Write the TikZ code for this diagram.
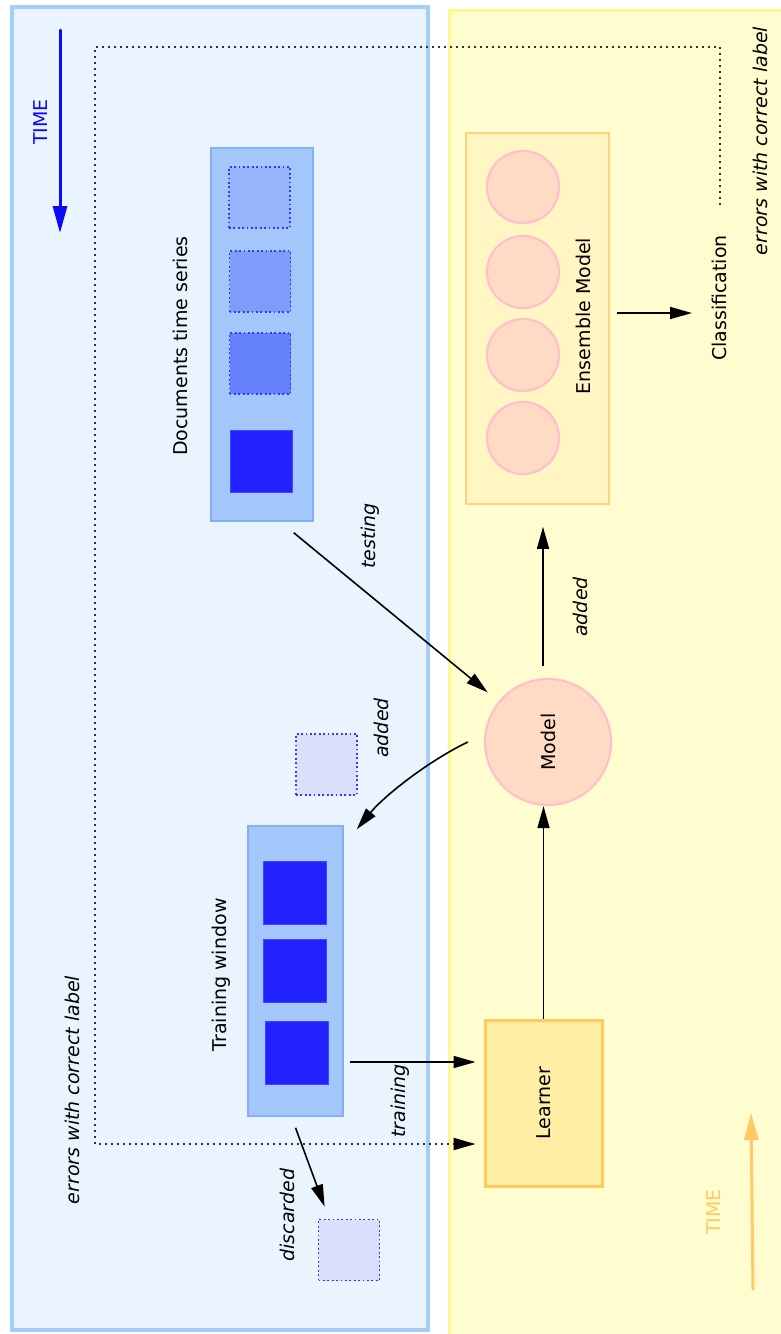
\documentclass[tikz,border=0pt]{standalone}
\usepackage{fontspec}
\setmainfont{DejaVu Sans}
\usetikzlibrary{arrows.meta}

\definecolor{pastfill}{HTML}{EAF4FE}
\definecolor{pastedge}{HTML}{A4CDF9}
\definecolor{nowfill}{HTML}{FFFDD0}
\definecolor{nowedge}{HTML}{FFF78F}
\definecolor{docfill}{HTML}{A3C6FB}
\definecolor{docedge}{HTML}{86AEF8}
\definecolor{docA}{HTML}{97B5FC}
\definecolor{docB}{HTML}{7F9CFB}
\definecolor{docC}{HTML}{6580FB}
\definecolor{docsolid}{HTML}{2222FF}
\definecolor{docdot}{HTML}{3636FF}
\definecolor{ghost}{HTML}{D8E0FC}
\definecolor{ensfill}{HTML}{FFF6C4}
\definecolor{ensedge}{HTML}{FFD27D}
\definecolor{modfill}{HTML}{FFDBC6}
\definecolor{modedge}{HTML}{FFC0CB}
\definecolor{learnfill}{HTML}{FFEDA5}
\definecolor{learnedge}{HTML}{FFC95E}
\definecolor{timeblue}{HTML}{0A0AF5}
\definecolor{timeorange}{HTML}{FFC966}

\begin{document}
\begin{tikzpicture}[x=1pt,y=-1pt,
  panel/.style={inner sep=0pt},
  container/.style={inner sep=0pt, line width=1.5pt},
  docsq/.style={inner sep=0pt, minimum size=61pt, draw=docdot, line width=1.8pt,
    dash pattern=on 1.8pt off 2.6pt},
  solidsq/.style={inner sep=0pt, minimum size=62pt, fill=docsolid, draw=docsolid!85!white, line width=0.8pt},
  member/.style={circle, inner sep=0pt, minimum size=72pt, fill=modfill, draw=modedge, line width=2.2pt},
  lbl/.style={rotate=90, inner sep=0pt, font=\fontsize{19}{22}\selectfont},
  itlbl/.style={rotate=90, inner sep=0pt, font=\fontsize{19}{22}\selectfont\itshape},
  conn/.style={line width=1.6pt, -{Triangle[length=22pt,width=12pt]}},
  feedback/.style={line width=2pt, draw=black!80, dash pattern=on 2pt off 4pt,
    -{Triangle[length=22pt,width=12pt,fill=black,color=black]}},
  timearrow/.style={line width=3pt, line cap=round, -{Triangle[length=27pt,width=14pt]}}
]
\useasboundingbox (0,0) rectangle (781,1334);
\fill[white] (0,0) rectangle (781,1334);

% the two time panels
\node[panel, fill=pastfill, draw=pastedge, line width=4pt,
  minimum width=416pt, minimum height=1323pt] (past) at (220,668.5) {};
\node[panel, fill=nowfill, draw=nowedge, line width=3pt,
  minimum width=342pt, minimum height=1335pt] (now) at (620,677.5) {};

% time direction on each side
\coordinate (tbA) at (60,30);
\coordinate (tbB) at (60,233);
\draw[timearrow, timeblue] (tbA) -- (tbB);
\node[lbl, text=timeblue] (timeL) at (41,122) {TIME};

\coordinate (toA) at (753,1289);
\coordinate (toB) at (751,1113);
\draw[timearrow, timeorange] (toA) -- (toB);
\node[lbl, text=timeorange] (timeR) at (714,1212) {TIME};

% documents time series
\node[container, fill=docfill, draw=docedge, minimum width=102pt, minimum height=373pt] (docs) at (262,334.5) {};
\node[docsq, fill=docA] (d1) at (259.5,197.5) {};
\node[docsq, fill=docB] (d2) at (260,281.5) {};
\node[docsq, fill=docC] (d3) at (260,363.5) {};
\node[solidsq] (d4) at (261,461) {};
\node[lbl] (docslbl) at (180,346) {Documents time series};

% ensemble of models
\node[container, fill=ensfill, draw=ensedge, minimum width=143pt, minimum height=371pt] (ens) at (537.5,318.5) {};
\node[member] (m1) at (523,187) {};
\node[member] (m2) at (523,272) {};
\node[member] (m3) at (523,355) {};
\node[member] (m4) at (523,438) {};
\node[lbl] (enslbl) at (583,316) {Ensemble Model};

\node[lbl] (cls) at (719,298) {Classification};
\coordinate (clsin) at (692,313);
\draw[conn, shorten <=7pt] (ens.east |- 0,313) -- (clsin);

% current model
\node[member, minimum size=126pt] (model) at (548,742) {};
\node[lbl] (modellbl) at (model) {Model};

% training window
\node[container, fill=docfill, draw=docedge, minimum width=95pt, minimum height=290pt] (train) at (295.5,971) {};
\node[solidsq, minimum size=63pt] (t1) at (294.5,892.5) {};
\node[solidsq, minimum size=63pt] (t2) at (294.5,970.5) {};
\node[solidsq, minimum size=63pt] (t3) at (296.5,1053) {};
\node[lbl] (trainlbl) at (221,975) {Training window};

% documents entering and leaving the window
\node[docsq, fill=ghost, minimum size=61pt] (newdoc) at (326.5,764.5) {};
\node[docsq, fill=ghost, minimum size=61pt] (olddoc) at (349,1250) {};

% learner
\node[panel, fill=learnfill, draw=learnedge, line width=3pt,
  minimum width=117pt, minimum height=166pt] (learner) at (543.5,1103) {};
\node[lbl] (learnlbl) at (learner) {Learner};

% connectors
\draw[conn, shorten >=14pt] ([xshift=-20pt,yshift=-11pt]docs.south east) -- (model);
\node[itlbl] (testlbl) at (370,536) {testing};

\draw[conn] ([xshift=-5pt,yshift=12pt]model.north) -- ([xshift=5.5pt,yshift=-22pt]ens.south);
\node[itlbl] (addlblR) at (580,607) {added};

\draw[conn] ([xshift=-16pt]model.west) .. controls (430,760) and (385,795) .. ([xshift=13pt,yshift=-4pt]train.north east);
\node[itlbl] (addlblL) at (381,728) {added};

\draw[conn] (learner.north) -- (learner.north |- model.south);

\draw[conn, shorten <=6pt, shorten >=8pt] (train.east |- 0,1062) -- (learner.west |- 0,1062);
\node[itlbl] (trainarrlbl) at (400,1101) {training};

\draw[conn] ([yshift=-11pt]train.south) -- ([xshift=7pt,yshift=12pt]olddoc.north west);
\node[itlbl] (disclbl) at (287,1215) {discarded};

% feedback of misclassified documents
\coordinate (fbA) at (720,205);
\coordinate (fbB) at (95,47);
\coordinate (fbC) at (95,1144);
\draw[feedback, shorten >=8pt] (fbA) |- (fbB) -- (fbC) -- (learner.west |- fbC);
\node[itlbl] (errR) at (760,141) {errors with correct label};
\node[itlbl] (errL) at (72,1090) {errors with correct label};
\end{tikzpicture}
\end{document}
